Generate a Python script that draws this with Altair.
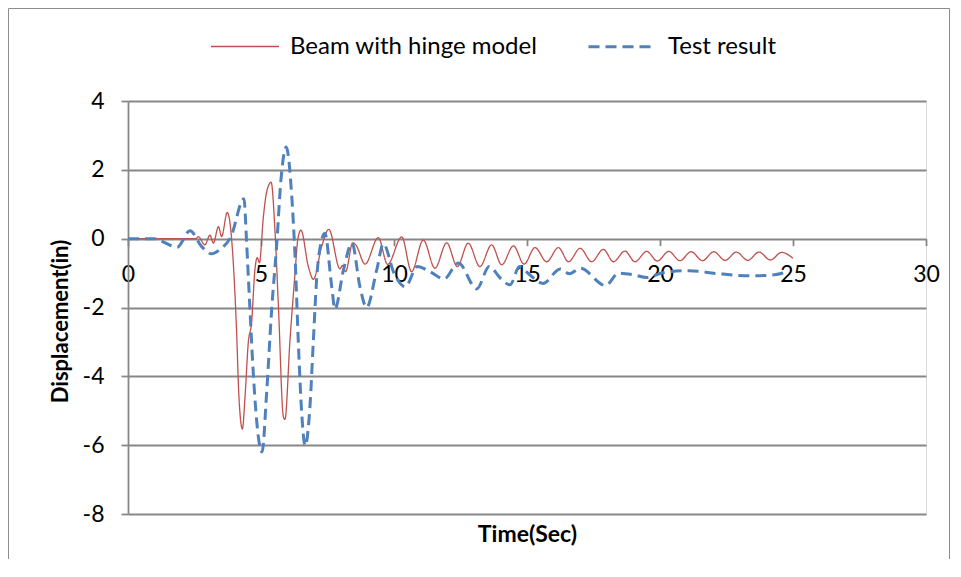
import altair as alt
import pandas as pd

# ---- data ----
SERIES = ["Beam with hinge model", "Test result"]

beam_t = [0, 2.55, 2.64, 2.89, 3.08, 3.21, 3.40, 3.52, 3.73, 3.96, 4.08, 4.17, 4.30, 4.40, 4.52,
          4.65, 4.77, 4.86, 4.94, 5.09, 5.21, 5.38, 5.53, 5.66, 5.84, 5.90, 6.09, 6.28, 6.38, 6.50,
          6.78, 6.97, 7.28, 7.55, 7.97, 8.06, 8.18, 8.45, 8.58, 8.91, 9.41, 9.76, 10.29, 10.66, 11.10,
          11.54, 11.98, 12.38, 12.79, 13.23, 13.67, 14.05, 14.49, 14.89, 15.30, 15.74, 16.18, 16.56,
          17.00, 17.43, 17.87, 18.25, 18.68, 19.06, 19.50, 19.90, 20.33, 20.75, 21.17, 21.60, 22.02,
          22.45, 22.87, 23.30, 23.72, 24.15, 24.57, 25.00]
beam_v = [0, 0, 0.06, -0.18, 0.10, -0.13, 0.35, 0.06, 0.76, -0.72, -2.65, -4.59, -5.53, -4.59, -3.04,
          -2.4, -0.91, -0.55, -0.70, 0.64, 1.35, 1.64, 0.16, -2.07, -5.17, -5.25, -2.94, -1.0, -0.04, 0.25,
          -0.81, -1.18, -0.23, 0.27, -0.88, -0.78, -0.96, -0.12, -0.2, -0.74, 0.03, -0.75, 0.05, -0.96, -0.04,
          -0.86, -0.12, -0.81, -0.13, -0.81, -0.18, -0.76, -0.21, -0.74, -0.26, -0.67, -0.26, -0.67,
          -0.28, -0.67, -0.31, -0.67, -0.36, -0.67, -0.37, -0.65, -0.37, -0.64, -0.38, -0.64, -0.38,
          -0.63, -0.39, -0.63, -0.39, -0.62, -0.40, -0.57]

test_t = [0, 1.0, 1.2, 1.85, 2.33, 2.77, 3.14, 3.43, 3.87, 4.36, 4.46, 4.58, 4.71, 4.90, 5.04, 5.21,
          5.40, 5.59, 5.75, 5.95, 6.15, 6.28, 6.40, 6.53, 6.66, 6.84, 6.97, 7.09, 7.28, 7.40, 7.66, 7.78,
          8.10, 8.42, 8.72, 8.97, 9.35, 9.60, 10.0, 10.42, 10.88, 11.35, 11.88, 12.42, 13.11, 13.58, 14.0,
          14.36, 14.72, 15.1, 15.6, 16.25, 16.6, 17.0, 17.95, 18.45, 19.0, 19.5, 20.1, 21.1, 22.1, 23.4,
          24.3, 24.8]
test_v = [0, 0, -0.05, -0.25, 0.23, -0.23, -0.44, -0.33, 0.06, 1.16, -0.13, -1.98, -3.91, -5.76, -6.2,
          -4.5, -2.07, -0.18, 1.71, 2.66, 1.3, -0.52, -2.94, -5.07, -6.02, -4.88, -2.94, -1.2, -0.04, 0.16,
          -1.4, -2.05, -0.91, -0.13, -1.40, -2.0, -0.91, -0.15, -1.0, -1.40, -0.81, -0.96, -1.17, -0.71,
          -1.46, -0.81, -1.15, -1.34, -0.81, -1.05, -1.3, -0.88, -1.02, -0.86, -1.36, -1.0, -1.05, -1.13,
          -0.99, -0.93, -1.01, -1.08, -1.05, -0.96]

x_ticks = [0, 5, 10, 15, 20, 25, 30]
y_ticks = [-8, -6, -4, -2, 0, 2, 4]

# ---- styling ----
RED = "#C0504D"
BLUE = "#4F81BD"
GRAY = "#878787"
FONT = "Lato"
W, H = 798, 413

df = pd.concat([
    pd.DataFrame({"t": beam_t, "v": beam_v, "series": SERIES[0]}),
    pd.DataFrame({"t": test_t, "v": test_v, "series": SERIES[1]}),
], ignore_index=True)

legend = alt.Legend(
    title=None, orient="none", legendX=82, legendY=-90, direction="horizontal",
    symbolType="stroke", symbolSize=4624, labelFont=FONT, labelFontSize=24,
    labelColor="black", labelOffset=10, columnPadding=44, padding=0, labelLimit=0,
)

x_axis = alt.Axis(
    values=x_ticks, title="Time(Sec)", offset=-(H - H / 3.0), grid=False, domain=False,
    ticks=True, tickSize=7, tickColor=GRAY, tickWidth=1.8,
    labelFont=FONT, labelFontSize=23, labelColor="black", labelPadding=17.5,
    labelFlush=False, labelOverlap=False, labelExpr="'' + datum.value",
    titleFont=FONT, titleFontSize=23, titleFontWeight="bold", titleColor="black",
    titleX=W / 2, titleY=296, titleBaseline="middle", titleAlign="center",
)
y_axis = alt.Axis(
    values=y_ticks, title="Displacement(in)", grid=True, gridColor=GRAY, gridWidth=1.8,
    domain=True, domainColor=GRAY, domainWidth=1.8,
    ticks=True, tickSize=7, tickColor=GRAY, tickWidth=1.8,
    labelFont=FONT, labelFontSize=23, labelColor="black", labelPadding=17,
    labelOverlap=False, labelExpr="'' + datum.value",
    titleFont=FONT, titleFontSize=22, titleFontWeight="bold", titleColor="black",
    titleX=-68, titleY=220, titleAngle=270, titleBaseline="middle", titleAlign="center",
)

lines = alt.Chart(df).mark_line(interpolate="monotone").encode(
    x=alt.X("t:Q", scale=alt.Scale(domain=[0, 30], nice=False, zero=False), axis=x_axis),
    y=alt.Y("v:Q", scale=alt.Scale(domain=[-8, 4], nice=False), axis=y_axis),
    color=alt.Color("series:N", scale=alt.Scale(domain=SERIES, range=[RED, BLUE]), legend=legend),
    strokeDash=alt.StrokeDash("series:N", scale=alt.Scale(domain=SERIES, range=[[1, 0], [11, 6]]), legend=legend),
    strokeWidth=alt.StrokeWidth("series:N", scale=alt.Scale(domain=SERIES, range=[1.3, 3]), legend=legend),
    order=alt.Order("series:N", sort="descending"),
)

frame = alt.Chart(pd.DataFrame({"k": [0]})).mark_rect(
    fillOpacity=0, stroke="#8c8c8c", strokeWidth=1
).encode(
    x=alt.value(-119.5), x2=alt.value(821.5), y=alt.value(-92.5), y2=alt.value(470)
)

chart = alt.layer(frame, lines).properties(
    width=W, height=H,
    autosize=alt.AutoSizeParams(type="none"),
    padding={"left": 120, "top": 93, "right": 24, "bottom": 45},
).configure_view(stroke=None).configure(background="white")

chart.save("out.html", embed_options={"renderer": "svg", "actions": False})
